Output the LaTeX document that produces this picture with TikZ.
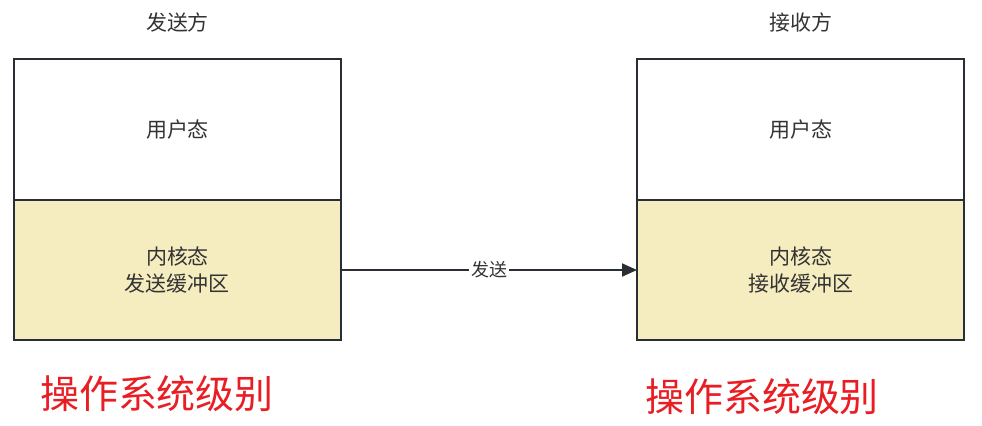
\documentclass[tikz,border=0pt]{standalone}
\usepackage{fontspec}
\setmainfont{Noto Sans CJK SC}
\usetikzlibrary{positioning, arrows.meta}
\definecolor{linedark}{RGB}{40, 46, 52}
\definecolor{kernelyellow}{RGB}{245, 237, 192}
\definecolor{levelred}{RGB}{232, 30, 36}
\definecolor{textgray}{RGB}{51, 51, 51}

\begin{document}
\begin{tikzpicture}[x=0.5pt, y=-0.5pt,
    layer/.style={draw=linedark, line width=1pt, minimum width=163.5pt, minimum height=70.25pt,
        inner sep=0pt, outer sep=0pt, align=center, text=textgray, font=\fontsize{10.5}{13.5}\selectfont},
    side/.style={text=textgray, font=\fontsize{10.5}{13.5}\selectfont},
    level/.style={text=levelred, font=\fontsize{19.5}{22}\selectfont}]
    \useasboundingbox (0,0) rectangle (982,425);

    % Sender
    \node[layer, fill=white] (sendU) at (177.5,129.5) {用户态};
    \node[layer, fill=kernelyellow, below=0pt of sendU] (sendK) {内核态\\发送缓冲区};
    \node[side] (sendT) at (177.5,22) {发送方};

    % Receiver
    \node[layer, fill=white] (recvU) at (800.5,129.5) {用户态};
    \node[layer, fill=kernelyellow, below=0pt of recvU] (recvK) {内核态\\接收缓冲区};
    \node[side] (recvT) at (800.5,22) {接收方};

    % Send arrow
    \draw[linedark, line width=1pt, -{Triangle[length=7.5pt, width=6.5pt]}] (sendK) -- (recvK)
        node[midway, fill=white, inner sep=1pt, text=textgray, font=\fontsize{9}{11}\selectfont] (sendL) {发送};

    % OS level labels
    \node[level] (sendOS) at (157,394) {操作系统级别};
    \node[level] (recvOS) at (762,397) {操作系统级别};
\end{tikzpicture}
\end{document}
